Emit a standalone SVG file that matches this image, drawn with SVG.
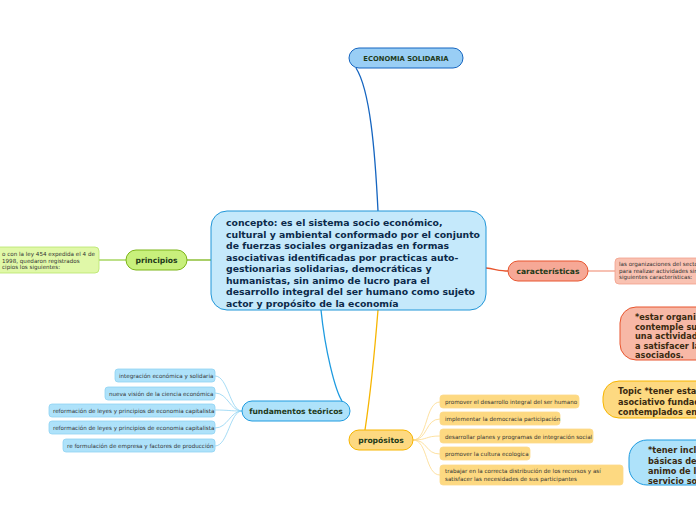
<svg xmlns="http://www.w3.org/2000/svg" width="696" height="520" viewBox="0 0 696 520">
<style>
text{font-family:"DejaVu Sans",Verdana,sans-serif;}
.main{font-size:9.3px;font-weight:bold;fill:#0b2a4a}
.t{font-size:7.6px;font-weight:bold;fill:#1f3b1a}
.s{font-size:5.6px;fill:#333}
.b{font-size:8.2px;font-weight:bold;fill:#3a2a10}
.c{fill:none;stroke-width:1.3}
</style>
<rect width="696" height="520" fill="#fff"/>
<g id="connectors">
<path class="c" stroke="#1565c0" d="M378,211 C375,150 370,90 356,68"/>
<path class="c" stroke="#7cb518" d="M211,260 L187,260"/>
<path class="c" stroke="#9ad04a" d="M126,260 L99,260"/>
<path class="c" stroke="#e8552e" d="M486,268 C495,269 500,271 508,271"/>
<path class="c" stroke="#f3a08a" d="M588,271 L615,271"/>
<path class="c" stroke="#1e9be0" d="M321,310 C325,350 335,390 342,401"/>
<path class="c" stroke="#f7b500" d="M378,310 C374,360 368,410 365,430"/>
<g stroke="#8fd3f2" fill="none" stroke-width="0.8">
<path d="M242,411 C230,411 228,376 215,376"/>
<path d="M242,411 C230,411 228,393 215,393"/>
<path d="M242,411 C230,411 228,410 215,410"/>
<path d="M242,411 C230,411 228,428 215,428"/>
<path d="M242,411 C230,411 228,446 215,446"/>
</g>
<g stroke="#fcd98a" fill="none" stroke-width="0.8">
<path d="M413,440 C428,440 425,402 440,402"/>
<path d="M413,440 C428,440 425,419 440,419"/>
<path d="M413,440 C428,440 425,436 440,436"/>
<path d="M413,440 C428,440 425,454 440,454"/>
<path d="M413,440 C428,440 425,475 440,475"/>
</g>
</g>
<g id="main">
<rect x="211" y="211" width="275" height="99" rx="16" fill="#c5e9fb" stroke="#2196d8" stroke-width="1"/>
<text class="main" x="226" y="226">concepto: es el sistema socio económico,</text>
<text class="main" x="226" y="237.5">cultural y ambiental conformado por el conjunto</text>
<text class="main" x="226" y="249">de fuerzas  sociales organizadas en formas</text>
<text class="main" x="226" y="260.5">asociativas identificadas por practicas auto-</text>
<text class="main" x="226" y="272">gestionarias solidarias, democráticas y</text>
<text class="main" x="226" y="283.5">humanistas, sin animo de lucro para el</text>
<text class="main" x="226" y="295">desarrollo integral del ser humano como sujeto</text>
<text class="main" x="226" y="306.5">actor y propósito de la economía</text>
</g>
<g id="economia">
<rect x="349" y="48" width="114" height="20" rx="10" fill="#99cef5" stroke="#1565c0"/>
<text class="t" x="406" y="61" text-anchor="middle" fill="#0b2a4a" style="font-size:6.8px">ECONOMIA SOLIDARIA</text>
</g>
<g id="principios">
<rect x="126" y="250" width="61" height="20" rx="10" fill="#c8f07c" stroke="#7cb518"/>
<text class="t" x="156.5" y="263" text-anchor="middle">principios</text>
</g>
<g id="principios-leaf">
<rect x="-10" y="247" width="109" height="26" rx="4" fill="#e0f8a8" stroke="#b8e46a" stroke-width="0.8"/>
<text class="s" x="2" y="256">o con la ley 454 expedida el 4 de</text>
<text class="s" x="2" y="262.5"> 1998, quedaron registrados</text>
<text class="s" x="2" y="269">cipios los siguientes:</text>
</g>
<g id="caracteristicas">
<rect x="508" y="261" width="80" height="20" rx="10" fill="#f6a896" stroke="#e8552e"/>
<text class="t" x="548" y="274" text-anchor="middle" fill="#4a1a10">características</text>
</g>
<g id="car-leaf">
<rect x="615" y="258" width="90" height="26" rx="4" fill="#f9c2b2" stroke="#f3a08a" stroke-width="0.8"/>
<text class="s" x="619" y="266">las organizaciones del sector</text>
<text class="s" x="619" y="272.5">para realizar actividades sin</text>
<text class="s" x="619" y="279">siguientes características:</text>
</g>
<g id="car-big">
<rect x="620" y="307" width="100" height="53" rx="16" fill="#f7b8a6" stroke="#e8552e"/>
<text class="b" x="635" y="320">*estar organiza</text>
<text class="b" x="635" y="329.5">contemple su op</text>
<text class="b" x="635" y="339">una actividad ec</text>
<text class="b" x="635" y="348.5">a satisfacer las</text>
<text class="b" x="635" y="358">asociados.</text>
</g>
<g id="topic">
<rect x="603" y="381" width="110" height="37" rx="16" fill="#fdd981" stroke="#f7b500"/>
<text class="b" x="618" y="394">Topic *tener estable</text>
<text class="b" x="618" y="404.5">asociativo fundado e</text>
<text class="b" x="618" y="415">contemplados en la</text>
</g>
<g id="blue-big">
<rect x="629" y="440" width="90" height="45" rx="18" fill="#aee2fa" stroke="#1e9be0"/>
<text class="b" x="648" y="453">*tener inclu</text>
<text class="b" x="648" y="463.5">básicas de f</text>
<text class="b" x="648" y="474">animo de lu,</text>
<text class="b" x="648" y="484">servicio soci</text>
</g>
<g id="fundamentos">
<rect x="242" y="401" width="108" height="20" rx="10" fill="#aee2fa" stroke="#1e9be0"/>
<text class="t" x="296" y="414" text-anchor="middle" fill="#0b3a3a">fundamentos teóricos</text>
</g>
<g id="fund-leaves" fill="#aee2fa" stroke="#8fd3f2" stroke-width="0.8">
<rect x="115" y="369" width="100" height="13" rx="3"/>
<rect x="105" y="387" width="110" height="13" rx="3"/>
<rect x="49" y="404" width="166" height="13" rx="3"/>
<rect x="49" y="421" width="166" height="13" rx="3"/>
<rect x="63" y="439" width="152" height="13" rx="3"/>
<g stroke="none">
<text class="s" x="119" y="378">integración económica y solidaria</text>
<text class="s" x="109" y="396">nueva visión de la ciencia económica</text>
<text class="s" x="53" y="413">reformación de leyes y principios de economia capitalista</text>
<text class="s" x="53" y="430">reformación de leyes y principios de economia capitalista</text>
<text class="s" x="67" y="448">re formulación de empresa y factores de producción</text>
</g>
</g>
<g id="propositos">
<rect x="349" y="430" width="64" height="20" rx="10" fill="#fdd981" stroke="#f7b500"/>
<text class="t" x="381" y="443" text-anchor="middle">propósitos</text>
</g>
<g id="prop-leaves" fill="#fdd981" stroke="#fcd98a" stroke-width="0.8">
<rect x="440" y="395" width="139" height="13" rx="3"/>
<rect x="440" y="412" width="120" height="13" rx="3"/>
<rect x="440" y="429" width="153" height="14" rx="3"/>
<rect x="440" y="447" width="90" height="13" rx="3"/>
<rect x="440" y="465" width="183" height="20" rx="3"/>
<g stroke="none">
<text class="s" x="445" y="404">promover el desarrollo integral del ser humano</text>
<text class="s" x="445" y="421">implementar la democracia participación</text>
<text class="s" x="445" y="438.5">desarrollar planes y programas de integración social</text>
<text class="s" x="445" y="456">promover la cultura ecologica</text>
<text class="s" x="445" y="473">trabajar en la correcta distribución de los recursos y así</text>
<text class="s" x="445" y="481">satisfacer las necesidades de sus participantes</text>
</g>
</g>
</svg>
